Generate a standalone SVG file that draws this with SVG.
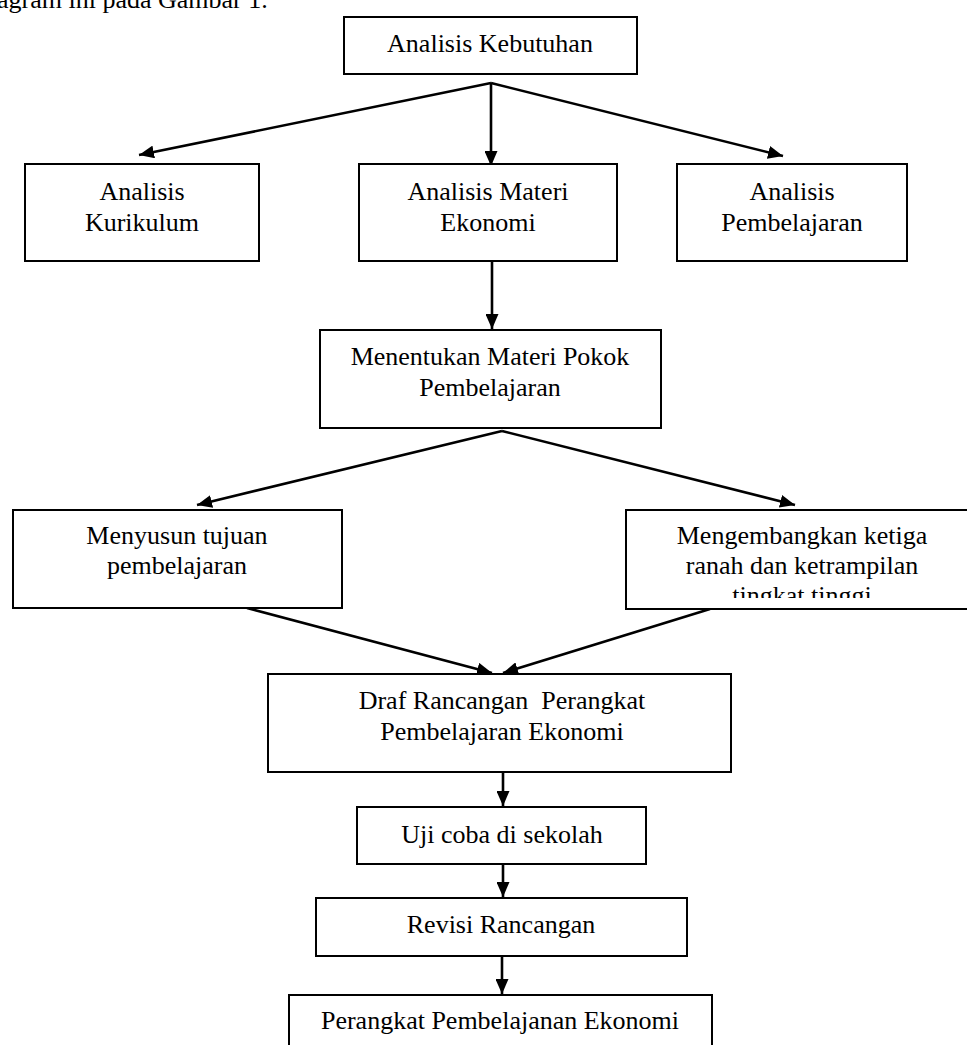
<svg xmlns="http://www.w3.org/2000/svg" width="967" height="1045" viewBox="0 0 967 1045">
<defs>
<style>
.box{fill:#fff;stroke:#000;stroke-width:2}
.t{font-family:"Liberation Serif","Times New Roman",serif;font-size:26px;fill:#000;text-anchor:middle}
.c{stroke:#000;stroke-width:2.6;fill:none;marker-end:url(#ah)}
</style>
<marker id="ah" markerUnits="userSpaceOnUse" markerWidth="15" markerHeight="13" refX="15" refY="6.5" orient="auto">
<path d="M0,0 L15,6.5 L0,13 z" fill="#000"/>
</marker>
<clipPath id="clipM"><rect x="626" y="510" width="341" height="88"/></clipPath>
</defs>
<rect width="967" height="1045" fill="#fff"/>
<text x="-3" y="8" font-family="Liberation Serif, serif" font-size="26" fill="#000">agram ini pada Gambar 1.</text>

<g id="connectors">
<line class="c" x1="491" y1="83" x2="139" y2="155"/>
<line class="c" x1="491" y1="83" x2="491" y2="166"/>
<line class="c" x1="491" y1="83" x2="783" y2="156"/>
<line class="c" x1="492" y1="261" x2="492" y2="329"/>
<line class="c" x1="502" y1="431" x2="197" y2="505"/>
<line class="c" x1="502" y1="431" x2="795" y2="505"/>
<line class="c" x1="247" y1="608" x2="492" y2="673"/>
<line class="c" x1="710" y1="609" x2="503" y2="673"/>
<line class="c" x1="503" y1="772" x2="503" y2="806"/>
<line class="c" x1="503" y1="864" x2="503" y2="897"/>
<line class="c" x1="502" y1="956" x2="502" y2="994"/>
</g>

<g id="n-kebutuhan">
<rect class="box" x="344" y="17" width="293" height="57"/>
<text class="t" x="490" y="52">Analisis Kebutuhan</text>
</g>
<g id="n-kurikulum">
<rect class="box" x="25" y="164" width="234" height="97"/>
<text class="t" x="142" y="200">Analisis</text>
<text class="t" x="142" y="231">Kurikulum</text>
</g>
<g id="n-materi">
<rect class="box" x="359" y="164" width="258" height="97"/>
<text class="t" x="488" y="200">Analisis Materi</text>
<text class="t" x="488" y="231">Ekonomi</text>
</g>
<g id="n-pembelajaran">
<rect class="box" x="677" y="164" width="230" height="97"/>
<text class="t" x="792" y="200">Analisis</text>
<text class="t" x="792" y="231">Pembelajaran</text>
</g>
<g id="n-menentukan">
<rect class="box" x="320" y="330" width="341" height="98"/>
<text class="t" x="490" y="365">Menentukan Materi Pokok</text>
<text class="t" x="490" y="396">Pembelajaran</text>
</g>
<g id="n-menyusun">
<rect class="box" x="13" y="510" width="329" height="98"/>
<text class="t" x="177" y="544">Menyusun tujuan</text>
<text class="t" x="177" y="574">pembelajaran</text>
</g>
<g id="n-mengembangkan">
<rect class="box" x="626" y="510" width="345" height="99"/>
<g clip-path="url(#clipM)">
<text class="t" x="802" y="544">Mengembangkan ketiga</text>
<text class="t" x="802" y="574">ranah dan ketrampilan</text>
<text class="t" x="802" y="604">tingkat tinggi</text>
</g>
</g>
<g id="n-draf">
<rect class="box" x="268" y="674" width="463" height="98"/>
<text class="t" x="502" y="709" xml:space="preserve">Draf Rancangan  Perangkat</text>
<text class="t" x="502" y="740">Pembelajaran Ekonomi</text>
</g>
<g id="n-uji">
<rect class="box" x="357" y="807" width="289" height="57"/>
<text class="t" x="502" y="843">Uji coba di sekolah</text>
</g>
<g id="n-revisi">
<rect class="box" x="316" y="898" width="371" height="58"/>
<text class="t" x="501" y="933">Revisi Rancangan</text>
</g>
<g id="n-perangkat">
<rect class="box" x="289" y="995" width="423" height="60"/>
<text class="t" x="500" y="1029">Perangkat Pembelajanan Ekonomi</text>
</g>
</svg>
